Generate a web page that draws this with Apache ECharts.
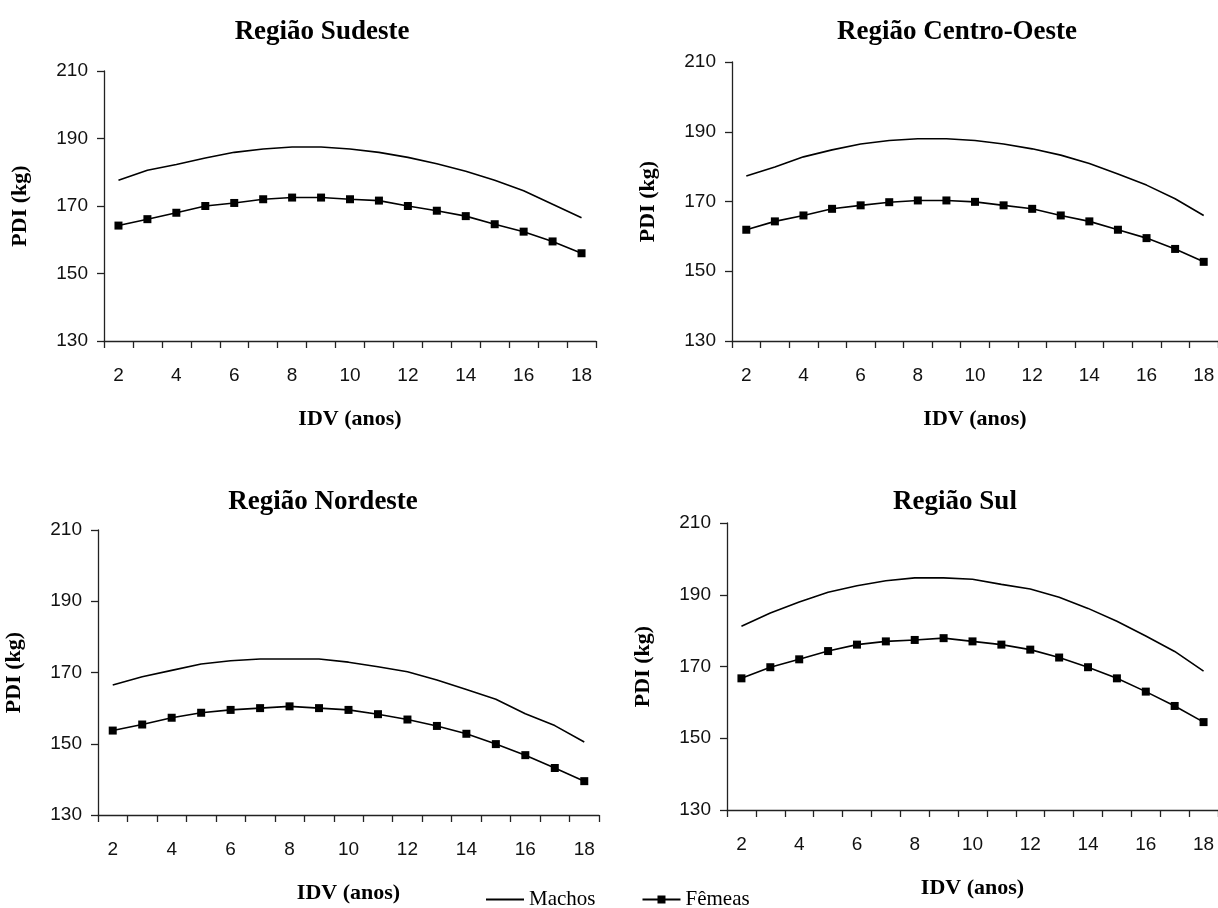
<!DOCTYPE html>
<html lang="pt">
  <head>
    <meta charset="UTF-8" />
    <title>PDI por região</title>
    <script src="https://cdn.jsdelivr.net/npm/echarts@6/dist/echarts.min.js"></script>
    <style>
      body { margin: 0; background: #fff; }
    </style>
  </head>
  <body>
    <div id="chart" style="width: 1218px; height: 908px"></div>

    <script>
      // idade da vaca (anos)
      var anos = ["2", "3", "4", "5", "6", "7", "8", "9", "10", "11", "12", "13", "14", "15", "16", "17", "18"];
      var eixoY = { min: 130, max: 210, passo: 20 };

      var sudesteMachos = [177.6, 180.6, 182.3, 184.2, 185.9, 186.9, 187.5, 187.5, 186.9, 185.9, 184.4, 182.5, 180.3, 177.6, 174.5, 170.5, 166.5];
      var sudesteFemeas = [164.2, 166.1, 168.0, 170.0, 170.9, 172.0, 172.5, 172.5, 172.0, 171.6, 170.0, 168.6, 167.0, 164.6, 162.4, 159.5, 156.0];
      var centroMachos = [177.3, 179.9, 182.8, 184.8, 186.5, 187.5, 188.0, 188.0, 187.5, 186.5, 185.1, 183.3, 180.9, 177.9, 174.7, 170.8, 166.0];
      var centroFemeas = [161.9, 164.3, 166.0, 167.9, 168.9, 169.8, 170.3, 170.3, 169.9, 168.9, 167.9, 166.0, 164.3, 161.9, 159.5, 156.4, 152.7];
      var nordesteMachos = [166.5, 168.8, 170.6, 172.4, 173.3, 173.8, 173.8, 173.8, 172.9, 171.6, 170.2, 167.9, 165.2, 162.5, 158.4, 155.1, 150.5];
      var nordesteFemeas = [153.7, 155.4, 157.3, 158.7, 159.5, 160.0, 160.5, 160.0, 159.5, 158.3, 156.8, 155.0, 152.8, 149.9, 146.8, 143.2, 139.5];
      var sulMachos = [181.2, 184.9, 188.0, 190.7, 192.5, 193.9, 194.7, 194.7, 194.3, 192.9, 191.6, 189.3, 186.2, 182.6, 178.5, 174.2, 168.7];
      var sulFemeas = [166.7, 169.8, 172.0, 174.3, 176.1, 177.0, 177.4, 177.9, 177.0, 176.1, 174.7, 172.5, 169.8, 166.7, 163.0, 159.0, 154.5];

      var paineis = [
        { titulo: "Região Sudeste", machos: sudesteMachos, femeas: sudesteFemeas,
          grid: { left: 104, top: 71, width: 492, height: 270 }, tx: 322, ty: 32 },
        { titulo: "Região Centro-Oeste", machos: centroMachos, femeas: centroFemeas,
          grid: { left: 732, top: 62, width: 491, height: 279 }, tx: 957, ty: 32 },
        { titulo: "Região Nordeste", machos: nordesteMachos, femeas: nordesteFemeas,
          grid: { left: 98, top: 530, width: 501, height: 285 }, tx: 323, ty: 502 },
        { titulo: "Região Sul", machos: sulMachos, femeas: sulFemeas,
          grid: { left: 727, top: 523, width: 496, height: 287 }, tx: 955, ty: 502 },
      ];

      var serif = "'Liberation Serif', 'Times New Roman', serif";
      var sans = "'Liberation Sans', Arial, sans-serif";
      var preto = "#111";

      var myChart = echarts.init(document.getElementById("chart"));

      var grids = [], xAxes = [], yAxes = [], series = [], titulos = [];

      paineis.forEach(function (p, i) {
        grids.push(p.grid);
        xAxes.push({
          type: "category",
          gridIndex: i,
          data: anos,
          boundaryGap: true,
          name: "IDV (anos)",
          nameLocation: "middle",
          nameGap: 67,
          nameTextStyle: { fontFamily: serif, fontWeight: "bold", fontSize: 22, color: "#000" },
          axisLine: { lineStyle: { color: "#222", width: 1.3 } },
          axisTick: { show: true, interval: 0, length: 7, lineStyle: { color: "#222", width: 1.3 } },
          axisLabel: { interval: 1, margin: 25, fontFamily: sans, fontSize: 19, color: preto },
          splitLine: { show: false },
        });
        yAxes.push({
          type: "value",
          gridIndex: i,
          min: eixoY.min,
          max: eixoY.max,
          interval: eixoY.passo,
          name: "PDI (kg)",
          nameLocation: "middle",
          nameRotate: 90,
          nameGap: 73,
          nameTextStyle: { fontFamily: serif, fontWeight: "bold", fontSize: 22, color: "#000" },
          axisLine: { show: true, lineStyle: { color: "#222", width: 1.3 } },
          axisTick: { show: true, length: 7, lineStyle: { color: "#222", width: 1.3 } },
          axisLabel: { margin: 16, fontFamily: sans, fontSize: 19, color: preto },
          splitLine: { show: false },
        });
        series.push({
          name: "Machos",
          type: "line",
          xAxisIndex: i,
          yAxisIndex: i,
          data: p.machos,
          symbol: "none",
          lineStyle: { color: "#000", width: 1.6 },
          itemStyle: { color: "#000" },
        });
        series.push({
          name: "Fêmeas",
          type: "line",
          xAxisIndex: i,
          yAxisIndex: i,
          data: p.femeas,
          symbol: "rect",
          symbolSize: 8,
          showAllSymbol: true,
          lineStyle: { color: "#000", width: 1.6 },
          itemStyle: { color: "#000" },
        });
        titulos.push({
          type: "text",
          x: p.tx,
          y: p.ty,
          style: {
            text: p.titulo,
            font: "bold 27px " + serif,
            fill: "#000",
            textAlign: "center",
            textVerticalAlign: "middle",
          },
        });
      });

      var option = {
        animation: false,
        backgroundColor: "#fff",
        grid: grids,
        xAxis: xAxes,
        yAxis: yAxes,
        series: series,
        graphic: titulos,
        legend: {
          // Machos: só a linha, sem marcador
          data: [{ name: "Machos", itemStyle: { opacity: 0 } }, { name: "Fêmeas" }],
          left: 480,
          top: 884,
          itemWidth: 38,
          itemHeight: 10,
          itemGap: 46,
          textStyle: { fontFamily: serif, fontSize: 21, color: "#000" },
        },
      };

      myChart.setOption(option);
    </script>
  </body>
</html>
